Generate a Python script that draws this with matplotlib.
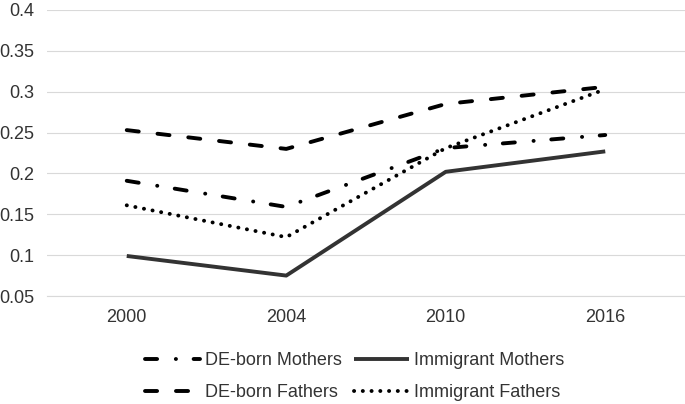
import matplotlib
matplotlib.use("Agg")
import matplotlib.pyplot as plt

# 데이터
years = ["2000", "2004", "2010", "2016"]
de_mothers = [0.191, 0.159, 0.231, 0.247]
imm_mothers = [0.099, 0.075, 0.202, 0.227]
de_fathers = [0.253, 0.230, 0.285, 0.306]
imm_fathers = [0.161, 0.122, 0.231, 0.303]
y_ticks = [0.05, 0.1, 0.15, 0.2, 0.25, 0.3, 0.35, 0.4]
y_tick_labels = ["0.05", "0.1", "0.15", "0.2", "0.25", "0.3", "0.35", "0.4"]

plt.rcParams["font.family"] = ["Liberation Sans", "DejaVu Sans"]
plt.rcParams["lines.scale_dashes"] = False

fig = plt.figure(figsize=(6.85, 4.04), dpi=100)
ax = fig.add_axes([0.0686, 0.2673, 0.9314, 0.708])

x = range(len(years))
lw = 2.8
common = dict(linewidth=lw, dash_capstyle="round", solid_capstyle="round")

l_dem, = ax.plot(x, de_mothers, color="black", linestyle=(0, (8.7, 13.5, 0.1, 12.7)),
                 label="DE-born Mothers", **common)
l_imm, = ax.plot(x, imm_mothers, color="#333333", linestyle="-",
                 label="Immigrant Mothers", linewidth=lw, solid_capstyle="butt")
l_def, = ax.plot(x, de_fathers, color="black", linestyle=(0, (8.7, 13.6)),
                 label="DE-born Fathers", **common)
l_imf, = ax.plot(x, imm_fathers, color="black", linestyle=(0, (0.1, 6.2)),
                 label="Immigrant Fathers", **common)

ax.set_xlim(-0.5, len(years) - 0.5)
ax.set_ylim(0.05, 0.4)
ax.set_xticks(list(x))
ax.set_xticklabels(years)
ax.set_yticks(y_ticks)
ax.set_yticklabels(y_tick_labels)
ax.tick_params(axis="both", length=0, labelsize=13, colors="#333333")
ax.tick_params(axis="y", pad=9)
ax.tick_params(axis="x", pad=9)

ax.grid(axis="y", color="#d9d9d9", linewidth=0.8)
ax.set_axisbelow(True)
for side in ["top", "right", "left"]:
    ax.spines[side].set_visible(False)
ax.spines["bottom"].set_color("#d9d9d9")
ax.spines["bottom"].set_linewidth(0.8)

# 범례: 열 우선 채우기이므로 순서를 맞춤
handles = [l_dem, l_def, l_imm, l_imf]
fig.legend(handles=handles, labels=[h.get_label() for h in handles],
           loc="center", bbox_to_anchor=(0.518, 0.068), ncol=2, frameon=False,
           fontsize=13, handlelength=3.0, handletextpad=0.3, columnspacing=0.7,
           labelspacing=0.85, labelcolor="#333333")

fig.savefig("out.png", dpi=100)
